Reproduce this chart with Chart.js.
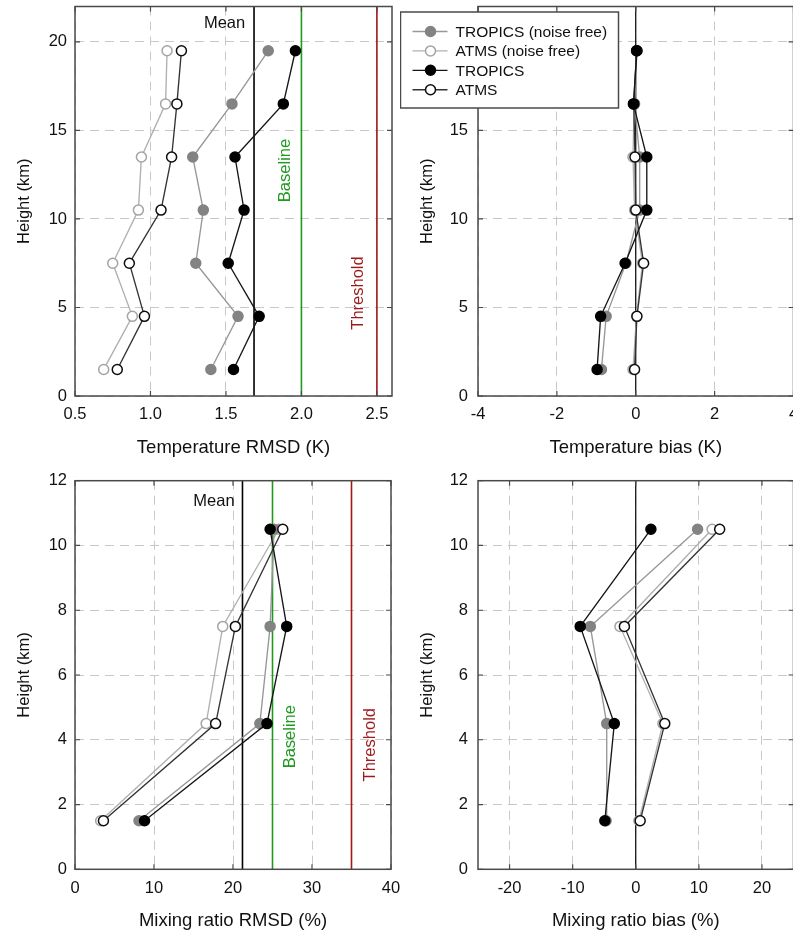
<!DOCTYPE html>
<html>
<head>
<meta charset="utf-8">
<script src="https://cdn.jsdelivr.net/npm/chart.js@4.4.1/dist/chart.umd.min.js"></script>
<style>
  html, body { margin: 0; padding: 0; background: #fff; overflow: hidden; }
  body { width: 793px; height: 932px; position: relative; }
  .panel { position: absolute; }
</style>
</head>
<body>
<div class="panel" style="left:0px;top:0px;width:400px;height:466px"><canvas id="c1" width="400" height="466"></canvas></div>
<div class="panel" style="left:400px;top:0px;width:400px;height:466px"><canvas id="c2" width="400" height="466"></canvas></div>
<div class="panel" style="left:0px;top:466px;width:400px;height:466px"><canvas id="c3" width="400" height="466"></canvas></div>
<div class="panel" style="left:400px;top:466px;width:400px;height:466px"><canvas id="c4" width="400" height="466"></canvas></div>
<script>
// ---------------- DATA ----------------
const seriesNames = ['TROPICS (noise free)', 'ATMS (noise free)', 'TROPICS', 'ATMS'];

// Heights (km)
const heightsTemp = [1.5, 4.5, 7.5, 10.5, 13.5, 16.5, 19.5];
const heightsMix  = [1.5, 4.5, 7.5, 10.5];

// Temperature RMSD (K)
const tempRmsdTropicsNF = [1.40, 1.58, 1.30, 1.35, 1.28, 1.54, 1.78];
const tempRmsdAtmsNF    = [0.69, 0.88, 0.75, 0.92, 0.94, 1.10, 1.11];
const tempRmsdTropics   = [1.55, 1.72, 1.515, 1.62, 1.56, 1.88, 1.96];
const tempRmsdAtms      = [0.78, 0.96, 0.86, 1.07, 1.14, 1.175, 1.205];

// Temperature bias (K)
const tempBiasTropicsNF = [-0.87, -0.75, -0.25, 0.10, 0.10, -0.03, 0.03];
const tempBiasAtmsNF    = [-0.07, 0.02, 0.17, -0.03, -0.07, -0.04, 0.02];
const tempBiasTropics   = [-0.98, -0.89, -0.27, 0.28, 0.28, -0.06, 0.03];
const tempBiasAtms      = [-0.03, 0.03, 0.20, 0.00, -0.02, -0.05, 0.02];

// Mixing ratio RMSD (%)
const mixRmsdTropicsNF = [8.1, 23.4, 24.7, 25.2];
const mixRmsdAtmsNF    = [3.25, 16.6, 18.7, 25.8];
const mixRmsdTropics   = [8.8, 24.3, 26.8, 24.7];
const mixRmsdAtms      = [3.6, 17.8, 20.3, 26.3];

// Mixing ratio bias (%)
const mixBiasTropicsNF = [-4.7, -4.6, -7.2, 9.8];
const mixBiasAtmsNF    = [0.5, 4.3, -2.5, 12.1];
const mixBiasTropics   = [-4.9, -3.4, -8.8, 2.4];
const mixBiasAtms      = [0.7, 4.6, -1.8, 13.3];

// Reference values
const tempRmsdMean = 1.686, tempRmsdBaseline = 2.0, tempRmsdThreshold = 2.5;
const mixRmsdMean = 21.2, mixRmsdBaseline = 25, mixRmsdThreshold = 35;

// Tick values
const tempRmsdXTicks = [0.5, 1.0, 1.5, 2.0, 2.5];
const tempBiasXTicks = [-4, -2, 0, 2, 4];
const tempYTicks = [0, 5, 10, 15, 20];
const mixRmsdXTicks = [0, 10, 20, 30, 40];
const mixBiasXTicks = [-20, -10, 0, 10, 20];
const mixYTicks = [0, 2, 4, 6, 8, 10, 12];

// ---------------- STYLES ----------------
const FONT = '"Liberation Sans", Arial, Helvetica, sans-serif';
const GREEN = '#1f9a1f';
const DARKRED = '#9c1a1a';
const styles = {
  'TROPICS (noise free)': { line: '#979797', fill: '#838383', border: '#838383', order: 2 },
  'ATMS (noise free)':    { line: '#b0b0b0', fill: '#ffffff', border: '#a4a4a4', order: 3 },
  'TROPICS':              { line: '#161616', fill: '#000000', border: '#000000', order: 0 },
  'ATMS':                 { line: '#333333', fill: '#ffffff', border: '#0d0d0d', order: 1 }
};

function makeDatasets(heights, seriesValues) {
  return seriesNames.map((name, i) => {
    const st = styles[name];
    return {
      label: name,
      data: seriesValues[i].map((v, k) => ({ x: v, y: heights[k] })),
      showLine: true,
      borderColor: st.line,
      borderWidth: 1.35,
      pointRadius: 5,
      pointBorderWidth: 1.5,
      pointBackgroundColor: st.fill,
      pointBorderColor: st.border,
      backgroundColor: st.fill,
      order: st.order,
      clip: false
    };
  });
}

// ---------------- PLUGIN ----------------
const panelPlugin = {
  id: 'panelDeco',
  beforeDatasetsDraw(chart) {
    const o = chart.options.plugins.panelDeco;
    const { ctx, chartArea: a } = chart;
    const xs = chart.scales.x;
    ctx.save();
    (o.refLines || []).forEach(r => {
      const px = xs.getPixelForValue(r.value);
      ctx.strokeStyle = r.color;
      ctx.lineWidth = r.width;
      ctx.beginPath();
      ctx.moveTo(px, a.top);
      ctx.lineTo(px, a.bottom);
      ctx.stroke();
    });
    ctx.restore();
  },
  afterDatasetsDraw(chart) {
    const o = chart.options.plugins.panelDeco;
    const { ctx, chartArea: a } = chart;
    const xs = chart.scales.x, ys = chart.scales.y;
    ctx.save();
    // frame
    ctx.strokeStyle = '#4a4a4a';
    ctx.lineWidth = 1.5;
    ctx.strokeRect(a.left, a.top, a.right - a.left, a.bottom - a.top);
    // inward tick marks
    ctx.lineWidth = 1.2;
    const tl = 5;
    xs.ticks.forEach(t => {
      const px = xs.getPixelForValue(t.value);
      ctx.beginPath();
      ctx.moveTo(px, a.bottom); ctx.lineTo(px, a.bottom - tl);
      ctx.moveTo(px, a.top); ctx.lineTo(px, a.top + tl);
      ctx.stroke();
    });
    ys.ticks.forEach(t => {
      const py = ys.getPixelForValue(t.value);
      ctx.beginPath();
      ctx.moveTo(a.left, py); ctx.lineTo(a.left + tl, py);
      ctx.moveTo(a.right, py); ctx.lineTo(a.right - tl, py);
      ctx.stroke();
    });
    // text labels
    (o.labels || []).forEach(l => {
      const px = xs.getPixelForValue(l.value) + l.dx;
      const py = a.top + l.dy;
      ctx.save();
      ctx.translate(px, py);
      if (l.rotate) ctx.rotate(-Math.PI / 2);
      ctx.fillStyle = l.color;
      ctx.font = '16.5px ' + FONT;
      ctx.textAlign = 'center';
      ctx.textBaseline = 'middle';
      ctx.fillText(l.text, 0, 0);
      ctx.restore();
    });
    ctx.restore();
  },
  afterDraw(chart) {
    const o = chart.options.plugins.panelDeco;
    if (!o.legend) return;
    const { ctx } = chart;
    const L = o.legend;
    ctx.save();
    ctx.fillStyle = '#ffffff';
    ctx.fillRect(L.x, L.y, L.w, L.h);
    ctx.strokeStyle = '#4a4a4a';
    ctx.lineWidth = 1.5;
    ctx.strokeRect(L.x, L.y, L.w, L.h);
    seriesNames.forEach((name, i) => {
      const st = styles[name];
      const yy = L.y + L.firstRow + i * L.rowGap;
      ctx.strokeStyle = st.line;
      ctx.lineWidth = 1.35;
      ctx.beginPath();
      ctx.moveTo(L.x + 12, yy);
      ctx.lineTo(L.x + 47, yy);
      ctx.stroke();
      ctx.beginPath();
      ctx.arc(L.x + 30, yy, 5, 0, Math.PI * 2);
      ctx.fillStyle = st.fill;
      ctx.fill();
      ctx.strokeStyle = st.border;
      ctx.lineWidth = 1.5;
      ctx.stroke();
      ctx.fillStyle = '#111';
      ctx.font = '15.5px ' + FONT;
      ctx.textAlign = 'left';
      ctx.textBaseline = 'middle';
      ctx.fillText(name, L.x + 55, yy + 1);
    });
    ctx.restore();
  }
};

function makeChart(id, cfg) {
  const tickFont = { family: FONT, size: 16.5 };
  return new Chart(document.getElementById(id), {
    type: 'scatter',
    data: { datasets: makeDatasets(cfg.heights, cfg.series) },
    plugins: [panelPlugin],
    options: {
      responsive: false,
      animation: false,
      events: [],
      layout: { padding: cfg.padding },
      plugins: {
        legend: { display: false },
        tooltip: { enabled: false },
        panelDeco: { refLines: cfg.refLines, labels: cfg.labels, legend: cfg.legend }
      },
      scales: {
        x: {
          type: 'linear',
          min: cfg.xMin, max: cfg.xMax,
          afterBuildTicks: s => { s.ticks = cfg.xTicks.map(v => ({ value: v })); },
          afterFit: s => { s.height = cfg.xHeight; s.paddingLeft = 0; s.paddingRight = 0; },
          ticks: {
            font: tickFont, color: '#111', padding: 9, maxRotation: 0, autoSkip: false,
            callback: v => cfg.xFmt ? cfg.xFmt(v) : String(v)
          },
          grid: { color: '#c8c8c8', lineWidth: 1, drawTicks: false },
          border: { display: false, dash: [9, 6] },
          title: {
            display: true, text: cfg.xTitle, color: '#111',
            font: { family: FONT, size: 18.5 },
            padding: { top: 0, bottom: cfg.xTitlePad }
          }
        },
        y: {
          type: 'linear',
          min: cfg.yMin, max: cfg.yMax,
          afterBuildTicks: s => { s.ticks = cfg.yTicks.map(v => ({ value: v })); },
          afterFit: s => { s.width = cfg.yWidth; s.paddingTop = 0; s.paddingBottom = 0; },
          ticks: { font: tickFont, color: '#111', padding: cfg.yTickPad, autoSkip: false },
          grid: { color: '#c8c8c8', lineWidth: 1, drawTicks: false },
          border: { display: false, dash: [9, 6] },
          title: {
            display: true, text: 'Height (km)', color: '#111',
            font: { family: FONT, size: 16.5 },
            padding: { top: cfg.yTitlePad, bottom: 0 }
          }
        }
      }
    }
  });
}

// Panel 1: Temperature RMSD
makeChart('c1', {
  heights: heightsTemp,
  series: [tempRmsdTropicsNF, tempRmsdAtmsNF, tempRmsdTropics, tempRmsdAtms],
  xMin: 0.5, xMax: 2.6, yMin: 0, yMax: 22,
  xTicks: tempRmsdXTicks, yTicks: tempYTicks, xFmt: v => v.toFixed(1),
  padding: { left: 0, top: 6.5, right: 8, bottom: 0 },
  xHeight: 70, yWidth: 75, yTickPad: 8, yTitlePad: 15, xTitlePad: 7,
  xTitle: 'Temperature RMSD (K)',
  refLines: [
    { value: tempRmsdMean, color: '#000', width: 1.6 },
    { value: tempRmsdBaseline, color: GREEN, width: 1.6 },
    { value: tempRmsdThreshold, color: DARKRED, width: 1.6 }
  ],
  labels: [
    { text: 'Mean', value: tempRmsdMean, dx: -29.5, dy: 16.5, color: '#111', rotate: false },
    { text: 'Baseline', value: tempRmsdBaseline, dx: -15.5, dy: 164, color: GREEN, rotate: true },
    { text: 'Threshold', value: tempRmsdThreshold, dx: -18.5, dy: 286.5, color: DARKRED, rotate: true }
  ]
});

// Panel 2: Temperature bias
makeChart('c2', {
  heights: heightsTemp,
  series: [tempBiasTropicsNF, tempBiasAtmsNF, tempBiasTropics, tempBiasAtms],
  xMin: -4, xMax: 4, yMin: 0, yMax: 22,
  xTicks: tempBiasXTicks, yTicks: tempYTicks,
  padding: { left: 0, top: 6.5, right: 6, bottom: 0 },
  xHeight: 70, yWidth: 78, yTickPad: 10, yTitlePad: 18, xTitlePad: 7,
  xTitle: 'Temperature bias (K)',
  refLines: [{ value: 0, color: '#000', width: 1.2 }],
  labels: [],
  legend: { x: 0.5, y: 12, w: 218, h: 96, firstRow: 19.5, rowGap: 19.4 }
});

// Panel 3: Mixing ratio RMSD
makeChart('c3', {
  heights: heightsMix,
  series: [mixRmsdTropicsNF, mixRmsdAtmsNF, mixRmsdTropics, mixRmsdAtms],
  xMin: 0, xMax: 40, yMin: 0, yMax: 12,
  xTicks: mixRmsdXTicks, yTicks: mixYTicks,
  padding: { left: 0, top: 14.7, right: 9, bottom: 0 },
  xHeight: 62.7, yWidth: 75, yTickPad: 8, yTitlePad: 15, xTitlePad: 0,
  xTitle: 'Mixing ratio RMSD (%)',
  refLines: [
    { value: mixRmsdMean, color: '#000', width: 1.6 },
    { value: mixRmsdBaseline, color: GREEN, width: 1.6 },
    { value: mixRmsdThreshold, color: DARKRED, width: 1.6 }
  ],
  labels: [
    { text: 'Mean', value: mixRmsdMean, dx: -28.5, dy: 21, color: '#111', rotate: false },
    { text: 'Baseline', value: mixRmsdBaseline, dx: 17.7, dy: 256, color: GREEN, rotate: true },
    { text: 'Threshold', value: mixRmsdThreshold, dx: 19, dy: 264, color: DARKRED, rotate: true }
  ]
});

// Panel 4: Mixing ratio bias
makeChart('c4', {
  heights: heightsMix,
  series: [mixBiasTropicsNF, mixBiasAtmsNF, mixBiasTropics, mixBiasAtms],
  xMin: -25, xMax: 25, yMin: 0, yMax: 12,
  xTicks: mixBiasXTicks, yTicks: mixYTicks,
  padding: { left: 0, top: 14.7, right: 6, bottom: 0 },
  xHeight: 62.7, yWidth: 78, yTickPad: 10, yTitlePad: 18, xTitlePad: 0,
  xTitle: 'Mixing ratio bias (%)',
  refLines: [{ value: 0, color: '#000', width: 1.2 }],
  labels: []
});
</script>
</body>
</html>
